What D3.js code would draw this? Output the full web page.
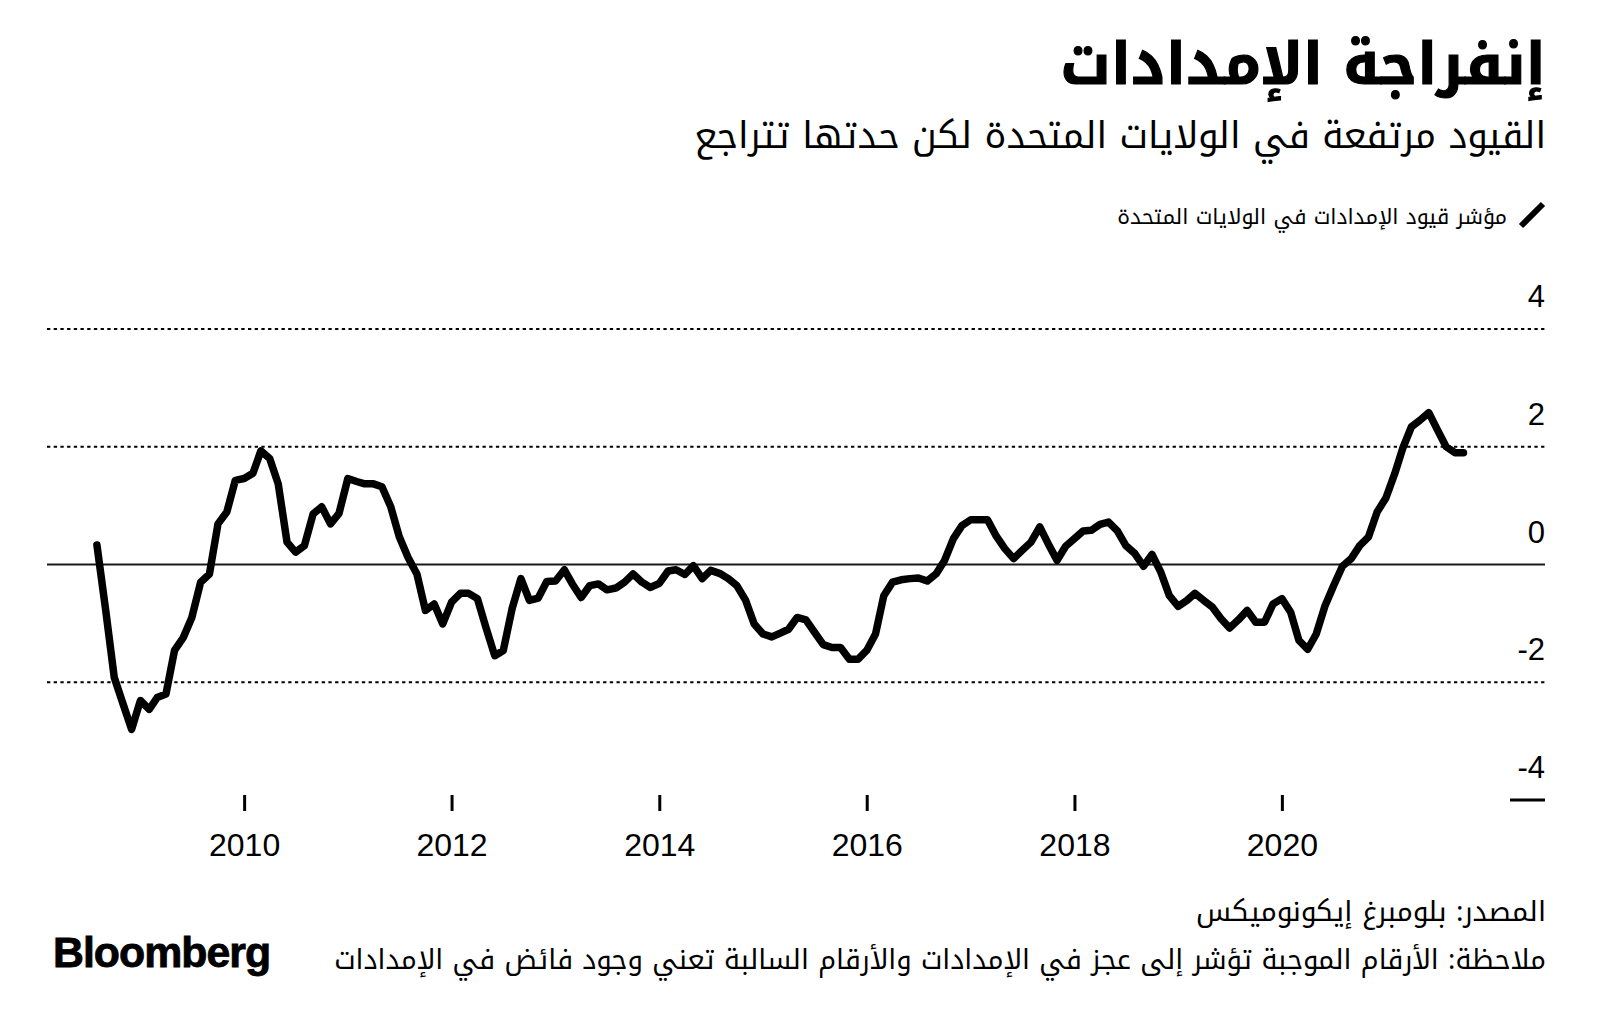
<!DOCTYPE html>
<html>
<head>
<meta charset="utf-8">
<script src="https://cdn.jsdelivr.net/npm/d3@7"></script>
<style>
  html, body { margin: 0; padding: 0; background: #fff; }
  svg { display: block; }
  .ar { font-family: "Noto Kufi Arabic", "Noto Sans Arabic", "DejaVu Sans", sans-serif; }
  .num { font-family: "Liberation Sans", Arial, "Helvetica", sans-serif; }
</style>
</head>
<body>
<svg id="chart" width="1600" height="1035"></svg>
<script>
// ---------- texts ----------
const titleText    = "إنفراجة الإمدادات";
const subtitleText = "القيود مرتفعة في الولايات المتحدة لكن حدتها تتراجع";
const legendText   = "مؤشر قيود الإمدادات في الولايات المتحدة";
const sourceText   = "المصدر: بلومبرغ إيكونوميكس";
const noteText     = "ملاحظة: الأرقام الموجبة تؤشر إلى عجز في الإمدادات والأرقام السالبة تعني وجود فائض في الإمدادات";
const logoText     = "Bloomberg";

// ---------- data (monthly index values) ----------
const values2008 = [0.33, -0.78, -1.92, -2.37, -2.80];                                   // Aug–Dec
const values2009 = [-2.31, -2.46, -2.26, -2.20, -1.46, -1.24, -0.90, -0.30, -0.16, 0.69, 0.89, 1.43];
const values2010 = [1.46, 1.55, 1.93, 1.80, 1.37, 0.38, 0.21, 0.32, 0.86, 0.98, 0.69, 0.87];
const values2011 = [1.46, 1.41, 1.37, 1.37, 1.32, 0.98, 0.47, 0.12, -0.16, -0.78, -0.67, -1.01];
const values2012 = [-0.64, -0.49, -0.49, -0.58, -1.07, -1.55, -1.46, -0.75, -0.24, -0.61, -0.57, -0.29];
const values2013 = [-0.28, -0.09, -0.33, -0.56, -0.36, -0.33, -0.43, -0.40, -0.30, -0.16, -0.30, -0.39];
const values2014 = [-0.32, -0.11, -0.09, -0.17, -0.02, -0.24, -0.10, -0.15, -0.24, -0.36, -0.61, -1.01];
const values2015 = [-1.18, -1.23, -1.17, -1.10, -0.90, -0.94, -1.15, -1.36, -1.41, -1.41, -1.61, -1.61];
const values2016 = [-1.46, -1.18, -0.53, -0.30, -0.26, -0.24, -0.23, -0.28, -0.16, 0.07, 0.44, 0.66];
const values2017 = [0.76, 0.76, 0.76, 0.48, 0.27, 0.10, 0.24, 0.38, 0.64, 0.35, 0.07, 0.31];
const values2018 = [0.44, 0.57, 0.58, 0.68, 0.72, 0.57, 0.32, 0.19, -0.03, 0.17, -0.13, -0.53];
const values2019 = [-0.71, -0.61, -0.49, -0.61, -0.72, -0.92, -1.08, -0.94, -0.78, -0.98, -0.98, -0.67];
const values2020 = [-0.58, -0.81, -1.29, -1.44, -1.18, -0.70, -0.36, -0.03, 0.10, 0.32, 0.47, 0.89];
const values2021 = [1.13, 1.54, 1.97, 2.34, 2.45, 2.58, 2.29, 2.00, 1.90, 1.90];        // Jan–Oct

const yearBlocks = [
  [2008, 7, values2008], [2009, 0, values2009], [2010, 0, values2010], [2011, 0, values2011],
  [2012, 0, values2012], [2013, 0, values2013], [2014, 0, values2014], [2015, 0, values2015],
  [2016, 0, values2016], [2017, 0, values2017], [2018, 0, values2018], [2019, 0, values2019],
  [2020, 0, values2020], [2021, 0, values2021]
];

const yTickValues = [4, 2, 0, -2, -4];
const xTickYears  = [2010, 2012, 2014, 2016, 2018, 2020];

// ---------- build series ----------
const series = [];
yearBlocks.forEach(([yr, m0, arr]) => {
  arr.forEach((v, i) => series.push({ date: new Date(yr, m0 + i, 1), value: v }));
});

// ---------- scales ----------
const svg = d3.select("#chart");
const x = d3.scaleTime()
  .domain([new Date(2008, 0, 1), new Date(2022, 0, 1)])
  .range([36.4, 1489.6]);
const y = d3.scaleLinear().domain([-4, 4]).range([800, 329]);

const gridLeft = 47, gridRight = 1545;

// ---------- gridlines ----------
const grid = svg.append("g");
yTickValues.filter(v => v !== 0 && v !== -4).forEach(v => {
  grid.append("line")
    .attr("x1", gridLeft).attr("x2", gridRight)
    .attr("y1", y(v)).attr("y2", y(v))
    .attr("stroke", "#000").attr("stroke-width", 2.2)
    .attr("stroke-dasharray", "3.3,3.4");
});
grid.append("line")
  .attr("x1", gridLeft).attr("x2", gridRight)
  .attr("y1", y(0)).attr("y2", y(0))
  .attr("stroke", "#1a1a1a").attr("stroke-width", 2.2);
grid.append("line")
  .attr("x1", 1510).attr("x2", gridRight)
  .attr("y1", y(-4)).attr("y2", y(-4))
  .attr("stroke", "#000").attr("stroke-width", 3);

// y labels
svg.append("g").selectAll("text")
  .data(yTickValues)
  .join("text")
  .attr("class", "num")
  .attr("x", gridRight)
  .attr("y", d => y(d) - 22)
  .attr("text-anchor", "end")
  .attr("font-size", 31)
  .attr("fill", "#000")
  .text(d => d);

// ---------- x axis ----------
const xAxis = d3.axisBottom(x)
  .tickValues(xTickYears.map(yr => new Date(yr, 0, 1)))
  .tickFormat(d3.timeFormat("%Y"))
  .tickSize(16);
const gx = svg.append("g").attr("transform", "translate(0,795)").call(xAxis);
gx.select(".domain").remove();
gx.selectAll(".tick line").attr("stroke", "#000").attr("stroke-width", 3);
gx.selectAll(".tick text")
  .attr("class", "num")
  .attr("y", 61).attr("dy", 0)
  .attr("font-size", 32)
  .attr("font-family", "\"Liberation Sans\", Arial, sans-serif")
  .attr("fill", "#000");

// ---------- line ----------
const line = d3.line()
  .x(d => x(d.date))
  .y(d => y(d.value));
svg.append("path")
  .datum(series)
  .attr("d", line)
  .attr("fill", "none")
  .attr("stroke", "#000")
  .attr("stroke-width", 7.5)
  .attr("stroke-linejoin", "round")
  .attr("stroke-linecap", "round");

// ---------- texts ----------
function fit(sel, target) {
  const w = sel.node().getComputedTextLength();
  const fs = parseFloat(sel.attr("font-size"));
  if (w > 0) sel.attr("font-size", (fs * target / w).toFixed(2));
  return sel;
}

const t = svg.append("text").attr("class", "ar")
  .attr("x", 1546).attr("y", 84).attr("text-anchor", "end")
  .attr("font-size", 58).attr("font-weight", 700).attr("fill", "#000")
  .attr("stroke", "#000").attr("stroke-width", 1.2)
  .text(titleText);
fit(t, 486);

const st = svg.append("text").attr("class", "ar")
  .attr("x", 1546).attr("y", 148).attr("text-anchor", "end")
  .attr("font-size", 38).attr("fill", "#000")
  .text(subtitleText);
fit(st, 852);

// legend
svg.append("line")
  .attr("x1", 1521).attr("y1", 226).attr("x2", 1543).attr("y2", 204)
  .attr("stroke", "#000").attr("stroke-width", 6);
const lt = svg.append("text").attr("class", "ar")
  .attr("x", 1507).attr("y", 224).attr("text-anchor", "end")
  .attr("font-size", 22).attr("fill", "#000")
  .text(legendText);
fit(lt, 390);

// footer
const src = svg.append("text").attr("class", "ar")
  .attr("x", 1546).attr("y", 921).attr("text-anchor", "end")
  .attr("font-size", 29).attr("fill", "#000")
  .text(sourceText);
fit(src, 350);

const nt = svg.append("text").attr("class", "ar")
  .attr("x", 1546).attr("y", 969).attr("text-anchor", "end")
  .attr("font-size", 29).attr("fill", "#000")
  .text(noteText);
fit(nt, 1212);

const logo = svg.append("text")
  .attr("x", 53).attr("y", 967)
  .attr("font-family", "\"Liberation Sans\", Arial, sans-serif")
  .attr("font-weight", 700).attr("font-size", 38)
  .attr("letter-spacing", -1)
  .attr("fill", "#000")
  .attr("stroke", "#000").attr("stroke-width", 0.8)
  .text(logoText);
fit(logo, 216);
</script>
</body>
</html>
